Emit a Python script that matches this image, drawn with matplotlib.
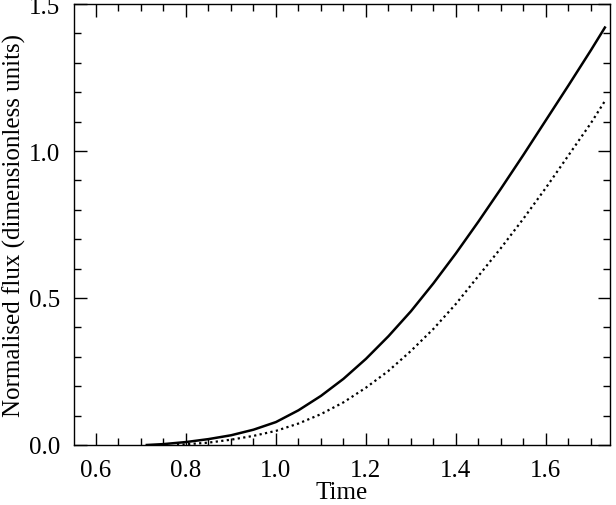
import matplotlib
matplotlib.use("Agg")
import matplotlib.pyplot as plt
from matplotlib.ticker import MultipleLocator

# solid curve
t_solid = [0.713, 0.75, 0.80, 0.85, 0.90, 0.95, 1.00, 1.05, 1.10, 1.15, 1.20,
           1.25, 1.30, 1.35, 1.40, 1.45, 1.50, 1.55, 1.60, 1.65, 1.70, 1.731]
f_solid = [0.0, 0.003, 0.010, 0.020, 0.033, 0.052, 0.078, 0.118, 0.167, 0.225, 0.293,
           0.370, 0.455, 0.550, 0.652, 0.760, 0.872, 0.987, 1.105, 1.223, 1.343, 1.420]

# dotted curve
t_dot = [0.78, 0.85, 0.90, 0.95, 1.00, 1.05, 1.10, 1.15, 1.20, 1.25, 1.30,
         1.35, 1.40, 1.45, 1.50, 1.55, 1.60, 1.65, 1.70, 1.731]
f_dot = [0.0, 0.008, 0.018, 0.031, 0.048, 0.073, 0.105, 0.145, 0.195, 0.252, 0.320,
         0.395, 0.480, 0.575, 0.670, 0.770, 0.875, 0.985, 1.095, 1.170]

plt.rcParams["font.family"] = ["Liberation Serif", "DejaVu Serif"]

fig = plt.figure(figsize=(6.16, 5.06), dpi=100)
ax = fig.add_axes([0.120, 0.1186, 0.870, 0.8715])

ax.plot(t_solid, f_solid, color="black", lw=1.8)
ax.plot(t_dot, f_dot, color="black", lw=1.6, linestyle=(0, (1, 1.5)))

ax.set_xlim(0.551, 1.742)
ax.set_ylim(0.0, 1.5)
ax.xaxis.set_major_locator(MultipleLocator(0.2))
ax.xaxis.set_minor_locator(MultipleLocator(0.05))
ax.yaxis.set_major_locator(MultipleLocator(0.5))
ax.yaxis.set_minor_locator(MultipleLocator(0.1))
ax.tick_params(which="both", direction="in", top=True, right=True, width=1, labelsize=18)
ax.tick_params(which="major", length=9, pad=10)
ax.tick_params(which="minor", length=5)
for s in ax.spines.values():
    s.set_linewidth(1)

ax.set_xlabel("Time", fontsize=18, labelpad=0)
ax.set_ylabel("Normalised flux (dimensionless units)", fontsize=18, labelpad=2)

fig.savefig("out.png", dpi=100)
